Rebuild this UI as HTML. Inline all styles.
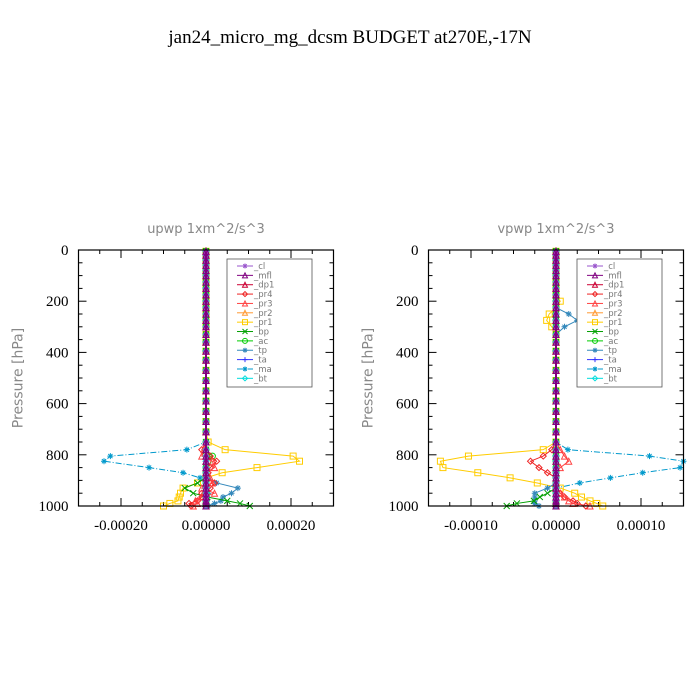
<!DOCTYPE html>
<html><head><meta charset="utf-8"><style>
body{margin:0;background:#fff}
svg{display:block}
</style></head><body>
<svg id="chart" width="700" height="700" viewBox="0 0 700 700" xmlns="http://www.w3.org/2000/svg">
<text x="350" y="43" text-anchor="middle" font-family="Liberation Serif, serif" font-size="19">jan24_micro_mg_dcsm  BUDGET at270E,-17N</text>
</svg>
<script>
// Shared pressure levels (hPa)
const levels=[5,20,40,60,80,100,125,150,175,200,225,250,275,300,330,360,395,430,470,510,550,590,630,670,710,750,780,805,825,850,870,890,910,930,950,965,980,990,1000];
const seriesNames=["_cl","_mfl","_dp1","_pr4","_pr3","_pr2","_pr1","_bp","_ac","_tp","_ta","_ma","_bt"];
const yTicks=[0,200,400,600,800,1000];
const uTicks=[-0.0002,0,0.0002];
const uTickLabels=["-0.00020","0.00000","0.00020"];
const vTicks=[-0.0001,0,0.0001];
const vTickLabels=["-0.00010","0.00000","0.00010"];
// upwp values (units 1e-5)
const u_pr1=[0,0,0,0,0,0,0,0,0,0,0,0,0,0,0,0,0,0,0,0,0,0,0,0,0,0.5,4.5,20.5,22,12,3.8,0,-2,-5.4,-6,-6.3,-6.6,-8.5,-10];
const u_ma=[0,0,0,0,0,0,0,0,0,0,0,0,0,0,0,0,0,0,0,0,0,0,0,0,0,0,-4.5,-22.5,-24,-13.4,-5.4,-1.4,0,0.3,0.5,0.3,0.2,0.1,0];
const u_tp=[0,0,0,0,0,0,0,0,0,0,0,0,0,0,0,0,0,0,0,0,0,0,0,0,0,0,0,0,0,0,0,0.5,2.5,7.5,6,4,3.5,2,0.5];
const u_bp=[0,0,0,0,0,0,0,0,0,0,0,0,0,0,0,0,0,0,0,0,0,0,0,0,0,0,0,0,0,0,0,0,-2,-5,-3,0.3,5,8,10.3];
const u_pr4=[0,0,0,0,0,0,0,0,0,0,0,0,0,0,0,0,0,0,0,0,0,0,0,0,0,0,-1,1,2.5,1,0.5,0,2,1,-1,-1,-2,-4,-3.5];
const u_pr3=[0,0,0,0,0,0,0,0,0,0,0,0,0,0,0,0,0,0,0,0,0,0,0,0,0,0,-0.5,-1,1.5,2,0,1,1.5,-1,2,-1,-2.5,-2,-3];
const u_ac=[0,0,0,0,0,0,0,0,0,0,0,0,0,0,0,0,0,0,0,0,0,0,0,0,0,0,0,1.5,0.5,0,0,0,0,0,0,0,0,0,0];
// vpwp values (units 1e-5)
const v_pr1=[0,0,0,0,0,0,0,0,0,0.5,0,-0.8,-1.1,-0.5,0,0,0,0,0,0,0,0,0,0,0,0,-1.5,-10.3,-13.6,-13.3,-9.2,-5.4,-2.2,0.5,2.2,3,4,4.8,5.5];
const v_ma=[0,0,0,0,0,0,0,0,0,0,0,0,0,0,0,0,0,0,0,0,0,0,0,0,0,0,1.4,11,15,14.6,10.2,6.4,2.8,0,0,0,0,0,0];
const v_tp=[0,0,0,0,0,0,0,0,0,0,0,1.5,2.5,1,0,0,0,0,0,0,0,0,0,0,0,0,0,0,0,0,0,0,0,-1,-2.5,-2.5,-2.5,-2.5,-2];
const v_bp=[0,0,0,0,0,0,0,0,0,0,0,0,0,0,0,0,0,0,0,0,0,0,0,0,0,0,0,0,0,0,0,0,0,0,-1,-1.9,-2.6,-4.6,-5.8];
const v_pr4=[0,0,0,0,0,0,0,0,0,0,0,0,0,0,0,0,0,0,0,0,0,0,0,0,0,0,-0.5,-1.5,-3,-2,-1,0,0,0,0.5,1,2,2.5,3.5];
const v_pr3=[0,0,0,0,0,0,0,0,0,0,0,0,0,0,0,0,0,0,0,0,0,0,0,0,0,0,0.5,1,1.5,0.5,0,0,0,0,0.5,1,1.5,2,4];
const zeros=[0,0,0,0,0,0,0,0,0,0,0,0,0,0,0,0,0,0,0,0,0,0,0,0,0,0,0,0,0,0,0,0,0,0,0,0,0,0,0];

const NS="http://www.w3.org/2000/svg";
const svg=document.getElementById("chart");
function mk(tag,attrs,parent){const e=document.createElementNS(NS,tag);for(const k in attrs)e.setAttribute(k,attrs[k]);(parent||svg).appendChild(e);return e;}

const styles={
"_cl":{c:"#9955cc",m:"star",d:""},"_mfl":{c:"#800080",m:"tri",d:""},"_dp1":{c:"#cc0033",m:"tri",d:""},
"_pr4":{c:"#ee2222",m:"diamond",d:""},"_pr3":{c:"#ff4040",m:"tri",d:""},"_pr2":{c:"#ff9933",m:"tri",d:""},
"_pr1":{c:"#ffcc00",m:"square",d:""},"_bp":{c:"#00a000",m:"x",d:""},"_ac":{c:"#00cc00",m:"circle",d:""},
"_tp":{c:"#3388bb",m:"star",d:""},"_ta":{c:"#3333ff",m:"plus",d:""},"_ma":{c:"#0099cc",m:"star",d:"6,2,1,2"},"_bt":{c:"#00dddd",m:"diamond",d:""}};

function marker(g,type,x,y,c,r){
 r=r||3;
 if(type==="square")mk("rect",{x:x-r,y:y-r,width:2*r,height:2*r,fill:"none",stroke:c,"stroke-width":1},g);
 else if(type==="circle")mk("circle",{cx:x,cy:y,r:r,fill:"none",stroke:c,"stroke-width":1},g);
 else if(type==="tri")mk("polygon",{points:`${x},${y-r} ${x+r},${y+r} ${x-r},${y+r}`,fill:"none",stroke:c,"stroke-width":1},g);
 else if(type==="diamond")mk("polygon",{points:`${x},${y-r} ${x+r},${y} ${x},${y+r} ${x-r},${y}`,fill:"none",stroke:c,"stroke-width":1},g);
 else if(type==="x"){mk("path",{d:`M${x-r},${y-r}L${x+r},${y+r}M${x-r},${y+r}L${x+r},${y-r}`,stroke:c,"stroke-width":1},g);}
 else if(type==="plus"){mk("path",{d:`M${x-r},${y}L${x+r},${y}M${x},${y-r}L${x},${y+r}`,stroke:c,"stroke-width":1},g);}
 else {mk("path",{d:`M${x-r},${y}L${x+r},${y}M${x},${y-r}L${x},${y+r}M${x-r*0.7},${y-r*0.7}L${x+r*0.7},${y+r*0.7}M${x-r*0.7},${y+r*0.7}L${x+r*0.7},${y-r*0.7}`,stroke:c,"stroke-width":1},g);}
}

function panel(o){
 const L=o.x0,R=o.x1,T=250,B=506;
 const xs=v=>L+(v-o.xmin)/(o.xmax-o.xmin)*(R-L);
 const ys=p=>T+p/1000*(B-T);
 const g=mk("g",{});
 
 
 const t=mk("text",{x:(L+R)/2,y:233,"text-anchor":"middle","font-family":"DejaVu Sans, sans-serif","font-size":13,fill:"#888"},g);
 t.textContent=o.title;
 
 
 const yl=mk("text",{transform:`translate(${L-56},${(T+B)/2}) rotate(-90)`,"text-anchor":"middle","font-family":"DejaVu Sans, sans-serif","font-size":14,fill:"#888"},g);
 yl.textContent="Pressure [hPa]";
 
 
 // ticks
 for(let p=0;p<=1000;p+=50){const len=(p%200===0)?8:4;const y=ys(p);
  mk("line",{x1:L,y1:y,x2:L+len,y2:y,stroke:"#000"},g);mk("line",{x1:R,y1:y,x2:R-len,y2:y,stroke:"#000"},g);}
 yTicks.forEach(p=>{const tl=mk("text",{x:L-10,y:ys(p)+5,"text-anchor":"end","font-family":"Liberation Serif, serif","font-size":15},g);tl.textContent=String(p);
  
  });
 for(let v=o.xmin;v<=o.xmax+1e-12;v+=o.minor){const x=xs(v);const maj=o.ticks.some(t=>Math.abs(t-v)<1e-12);const len=maj?8:4;
  mk("line",{x1:x,y1:B,x2:x,y2:B-len,stroke:"#000"},g);mk("line",{x1:x,y1:T,x2:x,y2:T+len,stroke:"#000"},g);}
 o.ticks.forEach((v,i)=>{const tl=mk("text",{x:xs(v),y:B+24,"text-anchor":"middle","font-family":"Liberation Serif, serif","font-size":15},g);tl.textContent=o.tickLabels[i];
  
  });
 // series
 const order=["_pr1","_ma","_tp","_bp","_ac","_pr4","_pr3","_pr2","_ta","_bt","_dp1","_cl","_mfl"];
 order.forEach(n=>{const vals=o.data[n];const st=styles[n];
  const sg=mk("g",{},g);
  
  
  const pts=vals.map((v,i)=>[xs(v*1e-5),ys(levels[i])]);
  const line=mk("polyline",{points:pts.map(p=>p.join(",")).join(" "),fill:"none",stroke:st.c,"stroke-width":(n==="_mfl"||n==="_cl")?2:1,"stroke-dasharray":st.d},sg);
  
  
  pts.forEach(p=>marker(sg,st.m,p[0],p[1],st.c,3));
 });
 mk("rect",{x:L,y:T,width:R-L,height:B-T,fill:"none",stroke:"#000","stroke-width":1.2},g);
 // legend
 const lg=mk("g",{},g);
 
 
 mk("rect",{x:o.lx,y:259,width:85,height:128,fill:"#fff",stroke:"#555","stroke-width":0.8},lg);
 seriesNames.forEach((n,i)=>{const y=266+i*9.36;const st=styles[n];
  const e=mk("g",{},lg);
  
  
  mk("line",{x1:o.lx+10,y1:y,x2:o.lx+26,y2:y,stroke:st.c,"stroke-dasharray":st.d},e);
  marker(e,st.m,o.lx+18,y,st.c,2.5);
  const tx=mk("text",{x:o.lx+27,y:y+3,"font-family":"DejaVu Sans, sans-serif","font-size":8.5,fill:"#777"},e);tx.textContent=n;
 });
}

panel({name:"upwp",title:"upwp   1xm^2/s^3",x0:78.5,x1:333.5,xmin:-0.0003,xmax:0.0003,minor:0.00005,ticks:uTicks,tickLabels:uTickLabels,lx:227,
 data:{"_cl":zeros,"_mfl":zeros,"_dp1":zeros,"_pr4":u_pr4,"_pr3":u_pr3,"_pr2":zeros,"_pr1":u_pr1,"_bp":u_bp,"_ac":u_ac,"_tp":u_tp,"_ta":zeros,"_ma":u_ma,"_bt":zeros}});
panel({name:"vpwp",title:"vpwp   1xm^2/s^3",x0:428.5,x1:683.5,xmin:-0.00015,xmax:0.00015,minor:0.000025,ticks:vTicks,tickLabels:vTickLabels,lx:577,
 data:{"_cl":zeros,"_mfl":zeros,"_dp1":zeros,"_pr4":v_pr4,"_pr3":v_pr3,"_pr2":zeros,"_pr1":v_pr1,"_bp":v_bp,"_ac":zeros,"_tp":v_tp,"_ta":zeros,"_ma":v_ma,"_bt":zeros}});
</script>
</body></html>
